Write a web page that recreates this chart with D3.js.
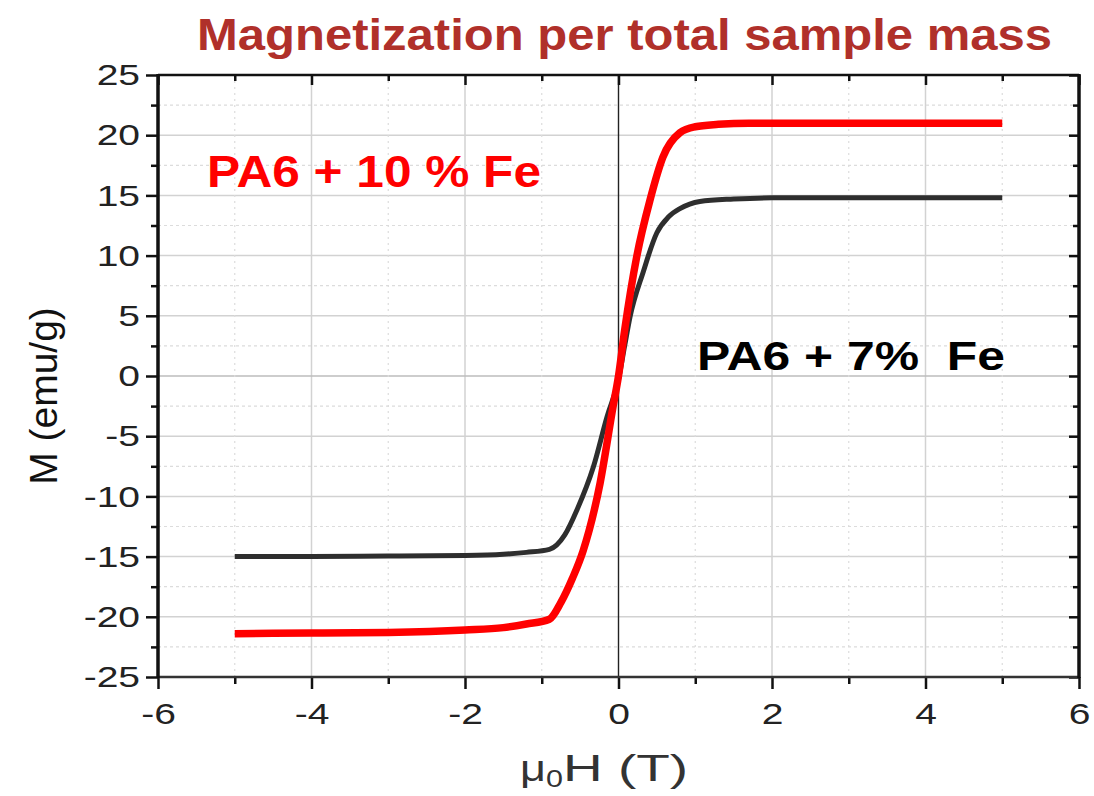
<!DOCTYPE html>
<html>
<head>
<meta charset="utf-8">
<script src="https://cdn.jsdelivr.net/npm/d3@7"></script>
<style>
  html, body { margin: 0; padding: 0; background: #fff; }
  svg text { font-family: "Liberation Sans", Arial, sans-serif; }
</style>
</head>
<body>
<svg id="chart" width="1094" height="796"></svg>
<script>
// Applied field (T) and magnetization (emu/g) for the 10 % Fe sample
const field10 = [-5, -4, -3, -2, -1.5, -1.2, -0.9, -0.75, -0.6, -0.46, -0.24, -0.07, 0, 0.08, 0.24, 0.41, 0.58, 0.8, 1.0, 1.3, 1.7, 2.5, 3, 4, 5];
const mag10   = [-21.4, -21.35, -21.3, -21.1, -20.9, -20.6, -20.2, -18.8, -16.8, -14.5, -8.9, -2.5, 0, 3.8, 10.0, 14.6, 18.2, 20.2, 20.7, 20.9, 21.0, 21.0, 21.0, 21.0, 21.0];

// Applied field (T) and magnetization (emu/g) for the 7 % Fe sample
const field7 = [-5, -4, -3, -2, -1.5, -1.2, -0.9, -0.7, -0.54, -0.33, -0.15, 0, 0.08, 0.15, 0.32, 0.5, 0.65, 0.8, 1.06, 1.5, 2, 3, 4, 5];
const mag7   = [-15.0, -15.0, -14.95, -14.9, -14.8, -14.65, -14.4, -13.2, -11.1, -7.6, -3.4, -0.3, 2.5, 4.9, 8.6, 11.9, 13.2, 13.9, 14.5, 14.7, 14.8, 14.8, 14.8, 14.8];

// Axis ticks
const xTicks = [-6, -4, -2, 0, 2, 4, 6];
const xMinor = [-5, -3, -1, 1, 3, 5];
const yTicks = [-25, -20, -15, -10, -5, 0, 5, 10, 15, 20, 25];
const yMinor = [-22.5, -17.5, -12.5, -7.5, -2.5, 2.5, 7.5, 12.5, 17.5, 22.5];

const titleText = "Magnetization per total sample mass";
const label10 = "PA6 + 10 % Fe";
const label7 = "PA6 + 7%  Fe";

const svg = d3.select("#chart");
const L = 158, R = 1079, T = 75, B = 677;

const x = d3.scaleLinear().domain([-6, 6]).range([L, R]);
const y = d3.scaleLinear().domain([-25, 25]).range([B, T]);

// grid
const grid = svg.append("g");
grid.selectAll(".gx").data(xTicks.filter(d => d > -6 && d < 6 && d !== 0)).join("line")
  .attr("x1", d => x(d)).attr("x2", d => x(d)).attr("y1", T).attr("y2", B)
  .attr("stroke", "#d2d2d2").attr("stroke-width", 1.5);
grid.selectAll(".gy").data(yTicks.filter(d => d > -25 && d < 25)).join("line")
  .attr("x1", L).attr("x2", R).attr("y1", d => y(d)).attr("y2", d => y(d))
  .attr("stroke", d => d === 0 ? "#bdbdbd" : "#d2d2d2").attr("stroke-width", 1.5);
grid.selectAll(".mx").data(xMinor).join("line")
  .attr("x1", d => x(d)).attr("x2", d => x(d)).attr("y1", T).attr("y2", B)
  .attr("stroke", "#dcdcdc").attr("stroke-width", 1.2).attr("stroke-dasharray", "2,4");
grid.selectAll(".my").data(yMinor).join("line")
  .attr("x1", L).attr("x2", R).attr("y1", d => y(d)).attr("y2", d => y(d))
  .attr("stroke", "#dcdcdc").attr("stroke-width", 1.2).attr("stroke-dasharray", "3,3");

// zero field line
svg.append("line").attr("x1", x(0)).attr("x2", x(0)).attr("y1", T).attr("y2", B)
  .attr("stroke", "#222").attr("stroke-width", 1.4);

// curves
const line = d3.line().x(d => x(d[0])).y(d => y(d[1])).curve(d3.curveMonotoneX);
svg.append("path").datum(d3.zip(field7, mag7)).attr("d", line)
  .attr("fill", "none").attr("stroke", "#2e2e2e").attr("stroke-width", 5)
  .attr("stroke-linecap", "butt");
svg.append("path").datum(d3.zip(field10, mag10)).attr("d", line)
  .attr("fill", "none").attr("stroke", "#ff0000").attr("stroke-width", 7.5)
  .attr("stroke-linecap", "butt");

// axes (plain hyphen for negative tick labels)
const fmt = d => String(d);
const axB = svg.append("g").attr("transform", `translate(0,${B})`)
  .call(d3.axisBottom(x).tickValues(xTicks).tickSize(12).tickPadding(14).tickFormat(fmt));
const axBm = svg.append("g").attr("transform", `translate(0,${B})`)
  .call(d3.axisBottom(x).tickValues(xMinor).tickSize(7).tickFormat(""));
const axL = svg.append("g").attr("transform", `translate(${L},0)`)
  .call(d3.axisLeft(y).tickValues(yTicks).tickSize(12).tickPadding(6).tickFormat(fmt));
const axLm = svg.append("g").attr("transform", `translate(${L},0)`)
  .call(d3.axisLeft(y).tickValues(yMinor).tickSize(7).tickFormat(""));
const axT = svg.append("g").attr("transform", `translate(0,${T})`)
  .call(d3.axisBottom(x).tickValues(xTicks).tickSize(10).tickFormat(""));
const axTm = svg.append("g").attr("transform", `translate(0,${T})`)
  .call(d3.axisBottom(x).tickValues(xMinor).tickSize(6).tickFormat(""));
const axR = svg.append("g").attr("transform", `translate(${R},0)`)
  .call(d3.axisLeft(y).tickValues(yTicks).tickSize(10).tickFormat(""));
const axRm = svg.append("g").attr("transform", `translate(${R},0)`)
  .call(d3.axisLeft(y).tickValues(yMinor).tickSize(6).tickFormat(""));

[axB, axBm, axL, axLm, axT, axTm, axR, axRm].forEach(g => {
  g.select(".domain").remove();
  g.selectAll(".tick line").attr("stroke", "#111").attr("stroke-width", 2.5);
  g.selectAll(".tick text").attr("fill", "#222").style("font-size", "30px")
    .style("font-family", "'Liberation Sans', Arial, sans-serif")
    .each(function () {
      // widen the digits a little
      const w = this.getComputedTextLength();
      d3.select(this).attr("textLength", w * 1.3).attr("lengthAdjust", "spacingAndGlyphs");
    });
});

// frame
svg.append("line").attr("x1", L).attr("x2", R).attr("y1", T).attr("y2", T).attr("stroke", "#111").attr("stroke-width", 2.5);
svg.append("line").attr("x1", L).attr("x2", R).attr("y1", B).attr("y2", B).attr("stroke", "#333").attr("stroke-width", 2.5);
svg.append("line").attr("x1", L).attr("x2", L).attr("y1", T - 1).attr("y2", B + 1).attr("stroke", "#111").attr("stroke-width", 3.5);
svg.append("line").attr("x1", R).attr("x2", R).attr("y1", T - 1).attr("y2", B + 1).attr("stroke", "#111").attr("stroke-width", 3.5);

// title
svg.append("text").attr("x", 197).attr("y", 50).text(titleText)
  .attr("fill", "#b0302a").attr("font-weight", "bold").style("font-size", "44px")
  .attr("textLength", 855).attr("lengthAdjust", "spacingAndGlyphs");

// series labels
svg.append("text").attr("x", 207).attr("y", 187).text(label10)
  .attr("fill", "#ff0000").attr("font-weight", "bold").style("font-size", "44px")
  .attr("textLength", 334).attr("lengthAdjust", "spacingAndGlyphs");
svg.append("text").attr("x", 697).attr("y", 370).text(label7).attr("xml:space", "preserve")
  .style("white-space", "pre")
  .attr("fill", "#000").attr("font-weight", "bold").style("font-size", "40px")
  .attr("textLength", 308).attr("lengthAdjust", "spacingAndGlyphs");

// axis titles
svg.append("text").attr("transform", `translate(57,${y(0) + 20}) rotate(-90)`)
  .attr("text-anchor", "middle").text("M (emu/g)")
  .attr("fill", "#111").style("font-size", "39px");
const xt = svg.append("text").attr("x", 520).attr("y", 781)
  .attr("fill", "#333").style("font-size", "36px");
xt.append("tspan").text("\u03BC").attr("textLength", 26).attr("lengthAdjust", "spacingAndGlyphs");
xt.append("tspan").text("0").attr("dy", 6).style("font-size", "24px")
  .attr("textLength", 17).attr("lengthAdjust", "spacingAndGlyphs");
xt.append("tspan").text("H (T)").attr("dy", -6)
  .attr("textLength", 125).attr("lengthAdjust", "spacingAndGlyphs");
</script>
</body>
</html>
